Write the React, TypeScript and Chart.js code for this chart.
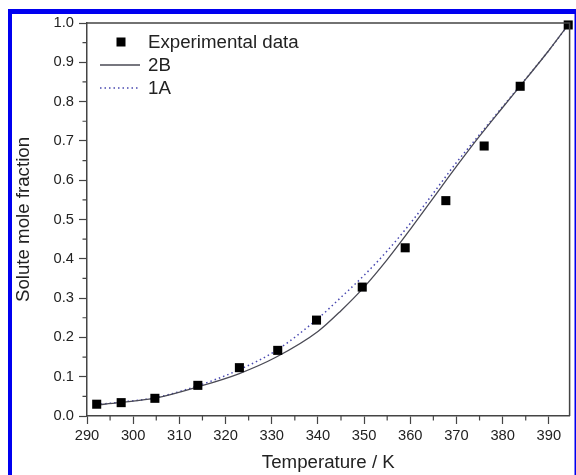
import { useEffect, useRef } from "react";
import { Chart, registerables } from "chart.js";

Chart.register(...registerables);

// Experimental data (Temperature / K, solute mole fraction)
const expTemps = [292.1, 297.4, 304.7, 314.0, 323.0, 331.3, 339.7, 349.6, 358.9, 367.7, 376.0, 383.8, 394.2];
const expFractions = [0.030, 0.034, 0.045, 0.078, 0.123, 0.167, 0.244, 0.328, 0.428, 0.548, 0.687, 0.839, 0.995];

// Model curves
const modelTemps = [292, 297, 305, 314, 323, 331, 340, 345, 350, 355, 360, 365, 370, 375, 380, 385, 390, 394.5];
const model2B = [0.028, 0.034, 0.046, 0.074, 0.108, 0.150, 0.215, 0.268, 0.328, 0.398, 0.475, 0.555, 0.635, 0.712, 0.785, 0.857, 0.930, 1.0];
const model1A = [0.029, 0.035, 0.047, 0.077, 0.118, 0.167, 0.248, 0.302, 0.358, 0.420, 0.490, 0.567, 0.645, 0.716, 0.787, 0.858, 0.930, 1.0];

const xMinorTicks = [295, 305, 315, 325, 335, 345, 355, 365, 375, 385];
const yMinorTicks = [0.05, 0.15, 0.25, 0.35, 0.45, 0.55, 0.65, 0.75, 0.85, 0.95];

const FONT = "'Liberation Sans', Arial, Helvetica, sans-serif";
const AXIS_COLOR = "#444";
const TEXT_COLOR = "#222";

const decorPlugin = {
  id: "decor",
  beforeDraw(chart: any) {
    const ctx = chart.ctx;
    ctx.save();
    ctx.fillStyle = "#ffffff";
    ctx.fillRect(0, 0, chart.width, chart.height);
    ctx.fillStyle = "#0000f0";
    ctx.fillRect(8, 9, 568, 5);
    ctx.fillRect(8, 9, 4, chart.height - 9);
    ctx.fillRect(574.5, 9, 1.5, chart.height - 9);
    ctx.restore();
  },
  afterDraw(chart: any) {
    const ctx = chart.ctx;
    const { left, right, top, bottom } = chart.chartArea;
    const xs = chart.scales.x;
    const ys = chart.scales.y;
    ctx.save();
    // frame top & right
    ctx.strokeStyle = AXIS_COLOR;
    ctx.lineWidth = 1.5;
    ctx.beginPath();
    ctx.moveTo(left, top);
    ctx.lineTo(right, top);
    ctx.lineTo(right, bottom);
    ctx.stroke();
    // minor ticks
    ctx.lineWidth = 1.2;
    ctx.beginPath();
    xMinorTicks.forEach((v) => {
      const px = xs.getPixelForValue(v);
      ctx.moveTo(px, bottom);
      ctx.lineTo(px, bottom + 4.5);
    });
    yMinorTicks.forEach((v) => {
      const py = ys.getPixelForValue(v);
      ctx.moveTo(left, py);
      ctx.lineTo(left - 4.5, py);
    });
    ctx.stroke();

    // legend
    const ds = chart.data.datasets;
    const lx = left + 13;
    const tx = left + 61;
    let ly = top + 19;
    ctx.font = `18.7px ${FONT}`;
    ctx.textBaseline = "middle";
    ctx.textAlign = "left";
    ds.forEach((d: any) => {
      if (d.showLine === false) {
        ctx.fillStyle = d.pointBackgroundColor;
        const s = 9;
        ctx.fillRect(lx + 21 - s / 2, ly - s / 2, s, s);
      } else {
        ctx.strokeStyle = d.borderColor;
        ctx.lineWidth = d.borderWidth;
        ctx.setLineDash(d.borderDash || []);
        ctx.beginPath();
        ctx.moveTo(lx, ly);
        ctx.lineTo(lx + 40, ly);
        ctx.stroke();
        ctx.setLineDash([]);
      }
      ctx.fillStyle = TEXT_COLOR;
      ctx.fillText(d.label, tx, ly + 1);
      ly += 23;
    });
    ctx.restore();
  },
};

export default function App() {
  const ref = useRef<HTMLCanvasElement | null>(null);

  useEffect(() => {
    if (!ref.current) return;
    const chart = new Chart(ref.current, {
      type: "scatter",
      data: {
        datasets: [
          {
            label: "Experimental data",
            data: expTemps.map((t, i) => ({ x: t, y: expFractions[i] })),
            showLine: false,
            pointStyle: "rect",
            pointRadius: 6.4,
            pointBackgroundColor: "#000",
            pointBorderColor: "#000",
            pointBorderWidth: 0,
            clip: false,
          } as any,
          {
            label: "2B",
            data: modelTemps.map((t, i) => ({ x: t, y: model2B[i] })),
            showLine: true,
            borderColor: "#4a4a55",
            borderWidth: 1.3,
            pointRadius: 0,
            cubicInterpolationMode: "monotone",
          } as any,
          {
            label: "1A",
            data: modelTemps.map((t, i) => ({ x: t, y: model1A[i] })),
            showLine: true,
            borderColor: "#4848b0",
            borderWidth: 1.5,
            borderDash: [1.5, 3],
            pointRadius: 0,
            cubicInterpolationMode: "monotone",
          } as any,
        ],
      },
      options: {
        responsive: false,
        animation: false,
        devicePixelRatio: 1,
        layout: { padding: { left: 0, top: 23, right: 3, bottom: 0 } },
        plugins: { legend: { display: false }, tooltip: { enabled: false } },
        scales: {
          x: {
            type: "linear",
            min: 290,
            max: 394.5,
            ticks: {
              stepSize: 10,
              includeBounds: false,
              font: { size: 14.7, family: FONT },
              color: TEXT_COLOR,
              padding: 3,
              maxRotation: 0,
            },
            grid: { drawOnChartArea: false, tickLength: 8, tickColor: AXIS_COLOR, tickWidth: 1.2 },
            border: { color: AXIS_COLOR, width: 1.5 },
            title: {
              display: true,
              text: "Temperature / K",
              font: { size: 18.7, family: FONT },
              color: TEXT_COLOR,
              padding: { top: 0, bottom: 1 },
            },
            afterFit: (s: any) => {
              s.height = 59;
            },
          },
          y: {
            type: "linear",
            min: 0,
            max: 1,
            ticks: {
              stepSize: 0.1,
              font: { size: 14.7, family: FONT },
              color: TEXT_COLOR,
              padding: 5,
              callback: (v: any) => Number(v).toFixed(1),
            },
            grid: { drawOnChartArea: false, tickLength: 8, tickColor: AXIS_COLOR, tickWidth: 1.2 },
            border: { color: AXIS_COLOR, width: 1.5 },
            title: {
              display: true,
              text: "Solute mole fraction",
              font: { size: 18.7, family: FONT },
              color: TEXT_COLOR,
              padding: { top: 13, bottom: 0 },
            },
            afterFit: (s: any) => {
              s.width = 87;
            },
          },
        },
      } as any,
      plugins: [decorPlugin],
    });
    return () => chart.destroy();
  }, []);

  return (
    <div style={{ position: "absolute", left: 0, top: 0, width: 576, height: 475 }}>
      <canvas ref={ref} width={576} height={475} style={{ width: 576, height: 475, display: "block" }} />
    </div>
  );
}
